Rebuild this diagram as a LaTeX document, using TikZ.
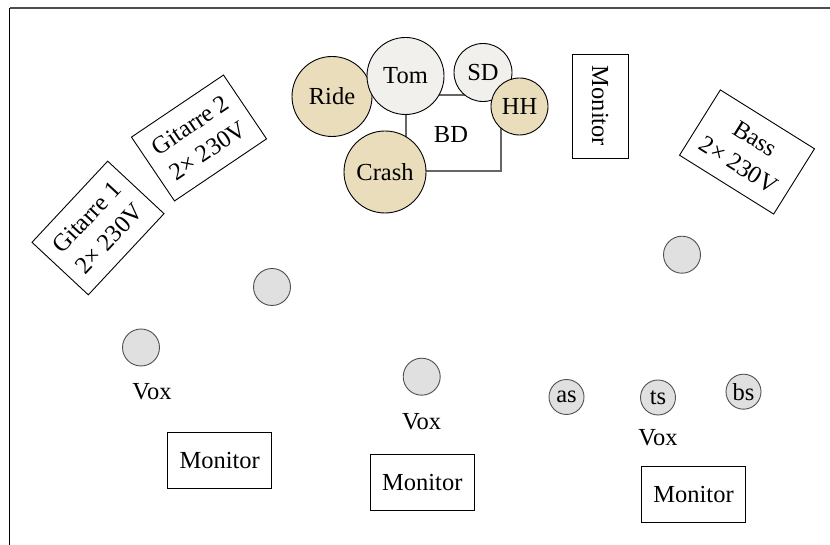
\documentclass[tikz,border=0pt]{standalone}
\usepackage{fontspec}
\setmainfont{Liberation Serif}
\definecolor{cymbal}{RGB}{233,221,188}
\definecolor{drum}{RGB}{241,240,236}
\definecolor{micfill}{RGB}{224,224,224}
\definecolor{micline}{RGB}{80,80,80}
\begin{document}
\begin{tikzpicture}[x=1pt,y=1pt,
  every node/.style={font=\fontsize{24.5}{31}\selectfont, inner sep=0pt},
  ampbox/.style={draw, line width=0.9pt, minimum width=111pt, minimum height=77pt, align=center},
  monbox/.style={draw, line width=0.9pt, minimum width=104pt, minimum height=56pt},
  cymb/.style={circle, draw, line width=0.9pt, fill=cymbal},
  drumc/.style={circle, draw, line width=0.9pt, fill=drum},
  mic/.style={circle, draw=micline, line width=0.9pt, fill=micfill, minimum size=37pt},
  sax/.style={circle, draw=micline, line width=0.9pt, fill=micfill, minimum size=35pt},
  lbl/.style={}]
\useasboundingbox (0,0) rectangle (830,545);
% frame
\coordinate (fbl) at (9.5,0);
\coordinate (ftl) at (9.5,537);
\coordinate (ftr) at (830,537);
\draw[line width=1.1pt] (fbl) -- (ftl);
\draw[line width=1.1pt, black!70] (ftl) -- (ftr);
% amps
\node[ampbox, rotate=47] (g1) at (98,317) {Gitarre 1\\2× 230V};
\node[ampbox, rotate=34] (g2) at (199,407) {Gitarre 2\\2× 230V};
\node[ampbox, rotate=-32] (bass) at (747,393) {Bass\\2× 230V};
\node[monbox, rotate=-90] (mtop) at (600,439) {Monitor};
% drum kit
\node[draw=black!60, line width=1.2pt, minimum width=95pt, minimum height=76pt] (bd) at (453.5,412) {};
\node (bdl) at (451,410) {BD};
\node[cymb, minimum size=80pt] (ride) at (332,448.5) {Ride};
\node[drumc, minimum size=77pt] (tom) at (405.5,469) {Tom};
\node[drumc, minimum size=58pt] (sd) at (483,472.5) {SD};
\node[cymb, minimum size=57pt] (hh) at (519.5,438.5) {HH};
\node[cymb, minimum size=82pt] (crash) at (385,373) {Crash};
% mics
\node[mic] (m1) at (272,258) {};
\node[mic] (m2) at (141,197.5) {};
\node[lbl] (v2) at (152,153) {Vox};
\node[mic] (m3) at (421.7,168.3) {};
\node[lbl] (v3) at (421.7,123.3) {Vox};
\node[mic] (m4) at (682,290.3) {};
\node[sax] (as) at (566.5,148) {as};
\node[sax] (ts) at (658,147.5) {ts};
\node[sax] (bs) at (743.5,153.3) {bs};
\node[lbl] (v4) at (658,107.3) {Vox};
% monitors
\node[monbox] (mon1) at (219.7,84.2) {Monitor};
\node[monbox] (mon2) at (422.3,62.5) {Monitor};
\node[monbox] (mon3) at (693.5,50.7) {Monitor};
\end{tikzpicture}
\end{document}
